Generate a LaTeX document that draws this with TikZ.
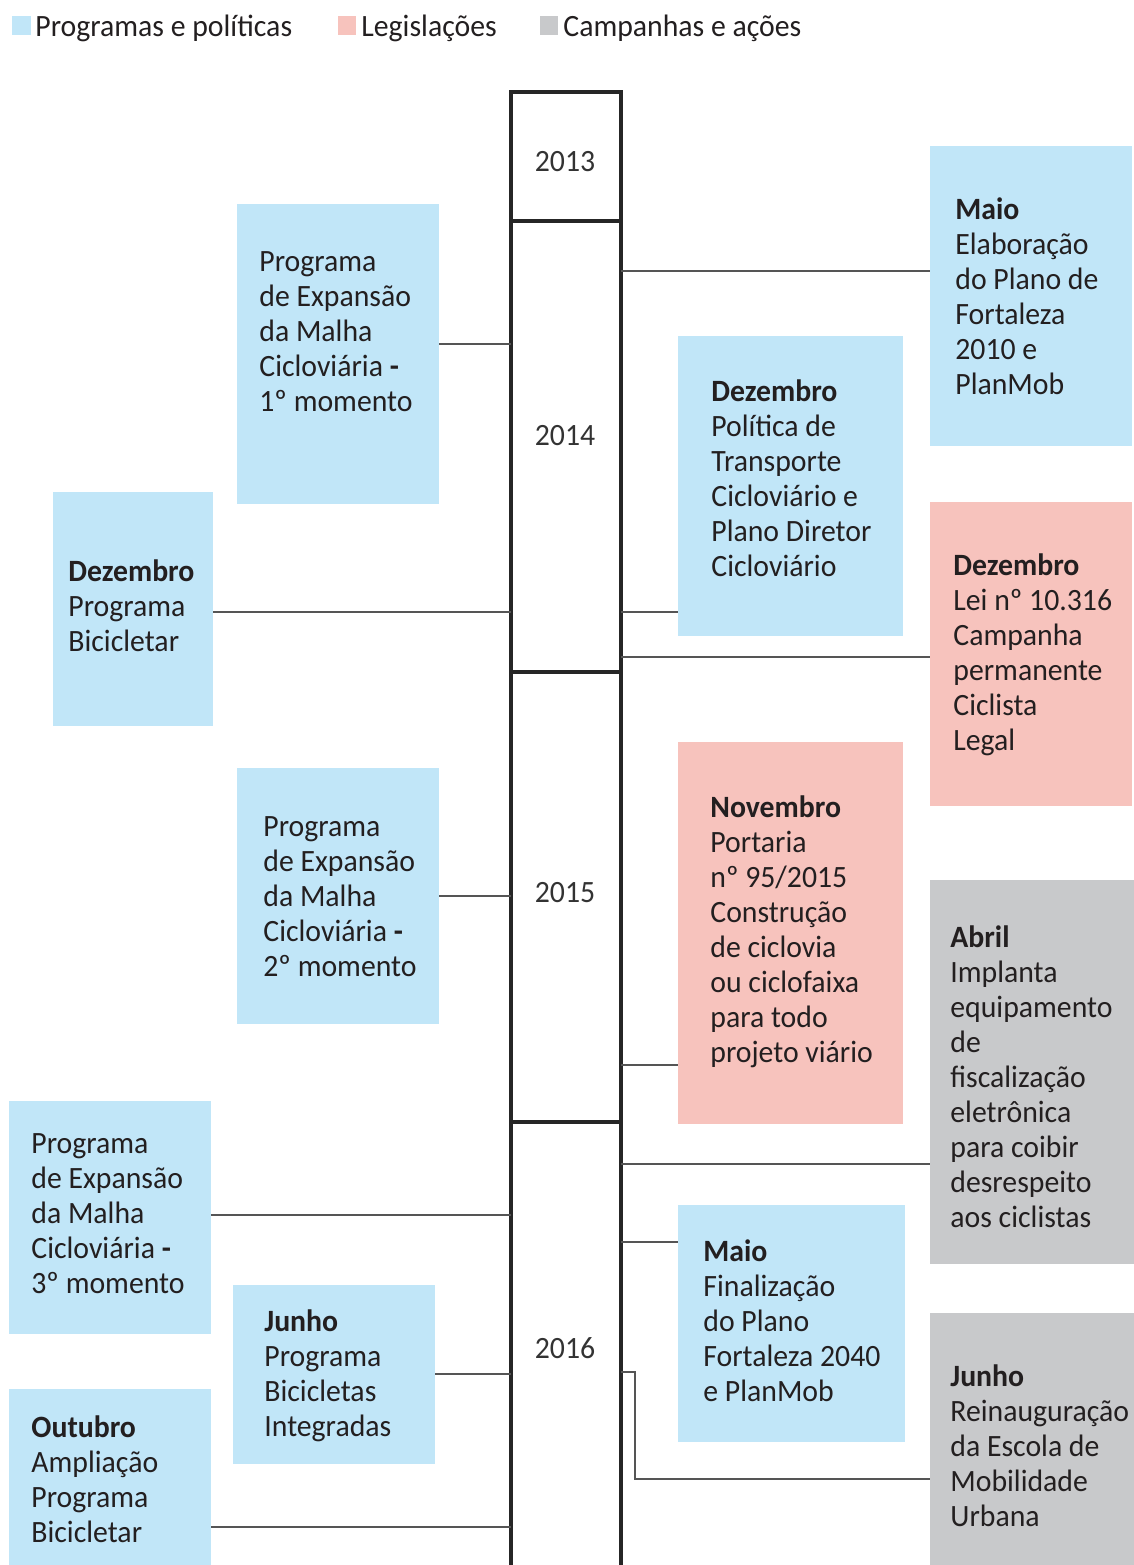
\documentclass[tikz,border=0pt]{standalone}
\usepackage{fontspec}
\setmainfont{Carlito}[FakeStretch=0.96]
\usepackage{tikz}
\usetikzlibrary{fit}
\definecolor{azul}{HTML}{C1E6F8}
\definecolor{rosa}{HTML}{F7C3BD}
\definecolor{cinza}{HTML}{C8C9CB}
\definecolor{linha}{HTML}{555555}
\definecolor{texto}{HTML}{231F20}

\begin{document}
\begin{tikzpicture}[x=0.5pt,y=-0.5pt,
  caixa/.style={inner sep=0pt,outer sep=0pt},
  ano/.style={draw=black!85,line width=1.6pt,inner sep=0pt,outer sep=0pt},
  txt/.style={anchor=north west,inner sep=0pt,align=left,text=texto,font=\fontsize{15.5}{17.5}\selectfont},
  rotulo/.style={inner sep=0pt,text=black!80,font=\fontsize{15.5}{17.5}\selectfont},
  liga/.style={draw=linha,line width=1.4pt}]
\useasboundingbox (0,0) rectangle (1134,1565);
% Legenda
\fill[azul] (12,16) rectangle (31,35);
\fill[rosa] (338,16) rectangle (356,35);
\fill[cinza] (540,16) rectangle (558,35);
\node[txt,anchor=base west] (leg1) at (35,36) {Programas e políticas};
\node[txt,anchor=base west] (leg2) at (361,36) {Legislações};
\node[txt,anchor=base west] (leg3) at (563,36) {Campanhas e ações};
% Anos
\node[ano,fit={(511,92) (621,221)}] (a13) {};
\node[ano,fit={(511,221) (621,672)}] (a14) {};
\node[ano,fit={(511,672) (621,1122)}] (a15) {};
\node[ano,fit={(511,1122) (621,1590)}] (a16) {};
\node[rotulo] (t13) at (565,162) {2013};
\node[rotulo] (t14) at (565,436) {2014};
\node[rotulo] (t15) at (565,893) {2015};
\node[rotulo] (t16) at (565,1348) {2016};
% Caixas da esquerda
\node[caixa,fill=azul,fit={(237,204) (439,504)}] (pe1) {};
\node[caixa,fill=azul,fit={(53,492) (213,726)}] (pb1) {};
\node[caixa,fill=azul,fit={(237,768) (439,1024)}] (pe2) {};
\node[caixa,fill=azul,fit={(9,1101) (211,1334)}] (pe3) {};
\node[caixa,fill=azul,fit={(233,1285) (435,1464)}] (pbi) {};
\node[caixa,fill=azul,fit={(9,1389) (211,1580)}] (pb2) {};
% Caixas da direita
\node[caixa,fill=azul,fit={(930,146) (1132,446)}] (pm1) {};
\node[caixa,fill=azul,fit={(678,336) (903,636)}] (pd1) {};
\node[caixa,fill=rosa,fit={(930,502) (1132,806)}] (lg1) {};
\node[caixa,fill=rosa,fit={(678,742) (903,1124)}] (lg2) {};
\node[caixa,fill=cinza,fit={(930,880) (1134,1264)}] (cp1) {};
\node[caixa,fill=azul,fit={(678,1205) (905,1442)}] (pm2) {};
\node[caixa,fill=cinza,fit={(930,1313) (1134,1580)}] (cp2) {};
% Ligacoes
\draw[liga] (pe1.east |- 0,344) -- (a14.west |- 0,344);
\draw[liga] (pb1.east |- 0,612) -- (a14.west |- 0,612);
\draw[liga] (pe2.east |- 0,896) -- (a15.west |- 0,896);
\draw[liga] (pe3.east |- 0,1215) -- (a16.west |- 0,1215);
\draw[liga] (pbi.east |- 0,1374) -- (a16.west |- 0,1374);
\draw[liga] (pb2.east |- 0,1527) -- (a16.west |- 0,1527);
\draw[liga] (a14.east |- 0,271) -- (pm1.west |- 0,271);
\draw[liga] (a14.east |- 0,612) -- (pd1.west |- 0,612);
\draw[liga] (a14.east |- 0,657) -- (lg1.west |- 0,657);
\draw[liga] (a15.east |- 0,1065) -- (lg2.west |- 0,1065);
\draw[liga] (a16.east |- 0,1164) -- (cp1.west |- 0,1164);
\draw[liga] (a16.east |- 0,1242) -- (pm2.west |- 0,1242);
\coordinate (dobra) at (635,1479);
\draw[liga] (a16.east |- 0,1372) -| (dobra) -- (cp2.west |- dobra);
% Textos
\node[txt] (pe1t) at (259,251) {Programa\\de Expansão\\da Malha\\Cicloviária \textbf{-}\\1º momento};
\node[txt] (pb1t) at (68,559) {\textbf{Dezembro}\\Programa\\Bicicletar};
\node[txt] (pe2t) at (263,816) {Programa\\de Expansão\\da Malha\\Cicloviária \textbf{-}\\2º momento};
\node[txt] (pe3t) at (31,1133) {Programa\\de Expansão\\da Malha\\Cicloviária \textbf{-}\\3º momento};
\node[txt] (pbit) at (264,1309) {\textbf{Junho}\\Programa\\Bicicletas\\Integradas};
\node[txt] (pb2t) at (31,1415) {\textbf{Outubro}\\Ampliação\\Programa\\Bicicletar};
\node[txt] (pm1t) at (955,197) {\textbf{Maio}\\Elaboração\\do Plano de\\Fortaleza\\2010 e\\PlanMob};
\node[txt] (pd1t) at (711,379) {\textbf{Dezembro}\\Política de\\Transporte\\Cicloviário e\\Plano Diretor\\Cicloviário};
\node[txt] (lg1t) at (953,553) {\textbf{Dezembro}\\Lei nº 10.316\\Campanha\\permanente\\Ciclista\\Legal};
\node[txt] (lg2t) at (710,795) {\textbf{Novembro}\\Portaria\\nº 95/2015\\Construção\\de ciclovia\\ou ciclofaixa\\para todo\\projeto viário};
\node[txt] (cp1t) at (950,925) {\textbf{Abril}\\Implanta\\equipamento\\de\\fiscalização\\eletrônica\\para coibir\\desrespeito\\aos ciclistas};
\node[txt] (pm2t) at (703,1239) {\textbf{Maio}\\Finalização\\do Plano\\Fortaleza 2040\\e PlanMob};
\node[txt] (cp2t) at (950,1364) {\textbf{Junho}\\Reinauguração\\da Escola de\\Mobilidade\\Urbana};
\end{tikzpicture}
\end{document}
